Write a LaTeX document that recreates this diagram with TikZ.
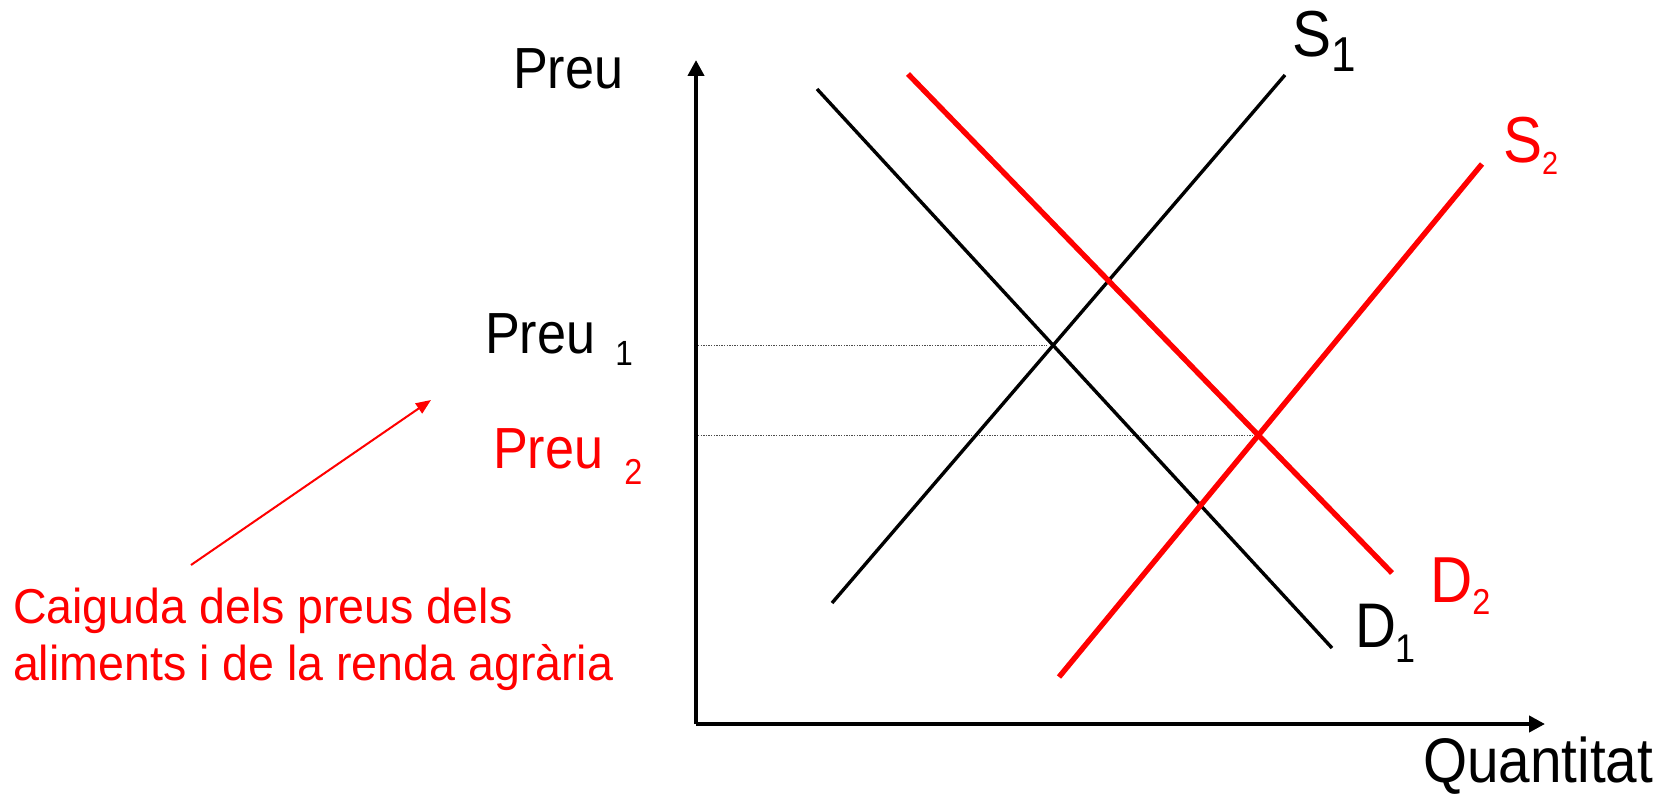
\documentclass[tikz,border=0pt]{standalone}
\usepackage{fontspec}
\setmainfont{Liberation Sans}[FakeStretch=0.9]
\newfontfamily\capfont{Liberation Sans}[FakeStretch=0.95]
\usetikzlibrary{arrows.meta}
\newcommand{\mklabel}[6]{{\fontsize{#2}{#2}\selectfont #1}\hspace{#3}\raisebox{-#4}{\fontsize{#6}{#6}\selectfont #5}}
\newcommand{\fs}[1]{\fontsize{#1}{#1}\selectfont}
\tikzset{
  lbl/.style={inner sep=0pt, outer sep=0pt, anchor=base west},
  blkcurve/.style={line width=3.4pt, black},
  redcurve/.style={line width=5.4pt, red},
  axisline/.style={line width=4pt, black, -{Triangle[length=16pt,width=16pt]}},
  guide/.style={line width=1.3pt, black!70, dash pattern=on 1.3pt off 1.3pt},
  notearrow/.style={line width=2pt, red, -{Triangle[length=15pt,width=12pt]}},
}
\begin{document}
\begin{tikzpicture}[x=1pt,y=-1pt]
\useasboundingbox (0,0) rectangle (1677,794);
% axes
\coordinate (O) at (696,724);
\coordinate (ytop) at (696,60);
\coordinate (xend) at (1545,724);
\draw[axisline] (O) -- (ytop);
\draw[axisline] (O) -- (xend);
% curve end points
\coordinate (d1a) at (817,89);
\coordinate (d1b) at (1332,648);
\coordinate (d2a) at (908,74);
\coordinate (d2b) at (1392,573);
\coordinate (s1a) at (832,603);
\coordinate (s1b) at (1285,75);
\coordinate (s2a) at (1059,677);
\coordinate (s2b) at (1482,164);
% equilibria
\coordinate (e1) at (intersection of d1a--d1b and s1a--s1b);
\coordinate (e2) at (intersection of d2a--d2b and s2a--s2b);
\coordinate (p1) at (O |- e1);
\coordinate (p2) at (O |- e2);
\draw[guide] ([xshift=2pt]p1) -- ([xshift=-6pt]e1);
\draw[guide] ([xshift=2pt]p2) -- ([xshift=-6pt]e2);
% curves
\draw[blkcurve] (d1a) -- (d1b);
\draw[blkcurve] (s1a) -- (s1b);
\draw[redcurve] (d2a) -- (d2b);
\draw[redcurve] (s2a) -- (s2b);
% labels
\node[lbl] (preu) at (513,89) {\fs{58}Preu};
\node[lbl] (preu1) at (485,353) {\mklabel{Preu}{58}{20pt}{12pt}{1}{35}};
\node[lbl, text=red] (preu2) at (493,468) {\mklabel{Preu}{58}{21pt}{16pt}{2}{36}};
\node[lbl] (S1) at (1292,57) {\mklabel{S}{65}{0pt}{15pt}{1}{49}};
\node[lbl, text=red] (S2) at (1503,163) {\mklabel{S}{65}{0pt}{12pt}{2}{32}};
\node[lbl, text=red] (D2) at (1430,602) {\mklabel{D}{65}{0pt}{12pt}{2}{36}};
\node[lbl] (D1) at (1355,647) {\mklabel{D}{63}{0pt}{15pt}{1}{40}};
\node[lbl] (quant) at (1423,782) {\fs{63}Quantitat};
\node[lbl, text=red] (cap1) at (13,623) {\capfont\fs{49}Caiguda dels preus dels};
\node[lbl, text=red] (cap2) at (13,680) {\capfont\fs{49}aliments i de la renda agr\`aria};
% note arrow
\coordinate (na) at (191,565);
\coordinate (nb) at (431,400);
\draw[notearrow] (na) -- (nb);
\end{tikzpicture}
\end{document}
